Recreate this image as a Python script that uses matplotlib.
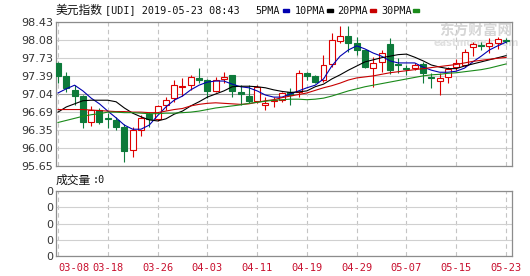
import matplotlib
matplotlib.use("Agg")
import matplotlib.pyplot as plt
from matplotlib.patches import Rectangle
import numpy as np

# daily candles 2019-03-08 .. 2019-05-23
opens = [97.63, 97.39, 97.12, 97.00, 96.49, 96.73, 96.58, 96.54, 96.41, 95.96,
         96.35, 96.65, 96.55, 96.83, 96.96, 97.17, 97.21, 97.34, 97.31, 97.10,
         97.32, 97.41, 97.07, 97.00, 96.90, 96.83, 96.90, 96.92, 97.08, 97.08,
         97.44, 97.39, 97.31, 97.61, 98.07, 98.16, 98.02, 97.88, 97.54, 97.66,
         98.00, 97.62, 97.54, 97.55, 97.62, 97.36, 97.30, 97.37, 97.57, 97.60,
         97.94, 97.99, 97.97, 98.03, 98.08]
closes = [97.39, 97.15, 97.00, 96.49, 96.73, 96.49, 96.55, 96.41, 95.93, 96.35,
          96.57, 96.55, 96.80, 96.92, 97.21, 97.19, 97.36, 97.31, 97.10, 97.31,
          97.37, 97.10, 97.04, 96.90, 97.18, 96.86, 96.92, 97.05, 97.02, 97.44,
          97.39, 97.28, 97.60, 98.08, 98.16, 98.03, 97.88, 97.57, 97.64, 97.84,
          97.50, 97.60, 97.52, 97.60, 97.44, 97.34, 97.34, 97.52, 97.63, 97.86,
          98.00, 97.97, 98.03, 98.10, 98.07]
highs = [97.66, 97.47, 97.21, 97.02, 96.80, 96.77, 96.67, 96.60, 96.47, 96.41,
         96.63, 96.70, 96.83, 96.98, 97.31, 97.34, 97.41, 97.54, 97.32, 97.36,
         97.47, 97.41, 97.21, 97.21, 97.21, 96.98, 96.99, 97.08, 97.15, 97.50,
         97.47, 97.41, 97.79, 98.21, 98.35, 98.35, 98.15, 97.89, 97.76, 97.88,
         98.12, 97.73, 97.60, 97.64, 97.66, 97.44, 97.44, 97.57, 97.71, 97.90,
         98.05, 98.05, 98.13, 98.15, 98.12]
lows = [97.25, 97.08, 96.83, 96.38, 96.42, 96.47, 96.38, 96.35, 95.73, 95.83,
        96.22, 96.41, 96.52, 96.73, 96.89, 97.00, 97.12, 97.25, 96.96, 97.08,
        97.25, 96.99, 96.83, 96.86, 96.86, 96.73, 96.78, 96.89, 96.83, 96.98,
        97.31, 97.25, 97.28, 97.57, 98.02, 97.86, 97.79, 97.54, 97.18, 97.47,
        97.43, 97.44, 97.41, 97.50, 97.25, 97.15, 97.02, 97.25, 97.50, 97.57,
        97.77, 97.89, 97.83, 97.90, 98.03]

ma5 = [97.06, 97.14, 97.21, 97.10, 96.96, 96.85, 96.71, 96.58, 96.44, 96.36,
       96.36, 96.44, 96.62, 96.79, 96.92, 97.00, 97.12, 97.21, 97.27, 97.29,
       97.29, 97.23, 97.18, 97.16, 97.10, 97.02, 96.98, 96.98, 97.04, 97.10,
       97.16, 97.21, 97.33, 97.58, 97.77, 97.89, 97.97, 97.91, 97.83, 97.77,
       97.68, 97.64, 97.64, 97.64, 97.56, 97.50, 97.46, 97.46, 97.48, 97.54,
       97.66, 97.77, 97.89, 97.97, 98.04]
ma10 = [96.69, 96.79, 96.85, 96.91, 96.92, 96.92, 96.92, 96.89, 96.77, 96.67,
        96.60, 96.54, 96.52, 96.56, 96.65, 96.71, 96.81, 96.89, 96.98, 97.04,
        97.10, 97.18, 97.19, 97.19, 97.18, 97.16, 97.12, 97.09, 97.07, 97.08,
        97.10, 97.18, 97.23, 97.33, 97.41, 97.50, 97.58, 97.66, 97.70, 97.74,
        97.77, 97.80, 97.81, 97.75, 97.68, 97.60, 97.56, 97.53, 97.53, 97.58,
        97.62, 97.66, 97.70, 97.74, 97.78]
ma20 = [96.74, 96.74, 96.74, 96.74, 96.73, 96.72, 96.71, 96.70, 96.70, 96.69,
        96.69, 96.68, 96.68, 96.71, 96.74, 96.76, 96.81, 96.84, 96.86, 96.87,
        96.86, 96.85, 96.84, 96.85, 96.88, 96.91, 96.93, 96.97, 97.00, 97.03,
        97.06, 97.11, 97.16, 97.20, 97.25, 97.31, 97.35, 97.37, 97.39, 97.42,
        97.45, 97.47, 97.49, 97.51, 97.53, 97.55, 97.57, 97.59, 97.61, 97.64,
        97.67, 97.69, 97.71, 97.73, 97.745]
ma30 = [96.49, 96.53, 96.57, 96.61, 96.64, 96.66, 96.69, 96.69, 96.68, 96.68,
        96.67, 96.66, 96.66, 96.67, 96.67, 96.68, 96.69, 96.71, 96.74, 96.77,
        96.79, 96.81, 96.83, 96.86, 96.88, 96.90, 96.92, 96.93, 96.94, 96.94,
        96.93, 96.94, 96.96, 97.00, 97.05, 97.10, 97.14, 97.18, 97.21, 97.24,
        97.27, 97.30, 97.33, 97.36, 97.39, 97.41, 97.42, 97.44, 97.45, 97.47,
        97.49, 97.51, 97.54, 97.58, 97.62]

date_labels = ["03-08", "03-18", "03-26", "04-03", "04-11",
               "04-19", "04-29", "05-07", "05-15", "05-23"]
date_index = [0, 6, 12, 18, 24, 30, 36, 42, 48, 54]
price_labels = ["95.65", "96.00", "96.35", "96.69", "97.04",
                "97.39", "97.73", "98.08", "98.43"]

W, H = 530, 276
UP = "#dd0000"
DOWN = "#0d7a3a"
GRID = "#d0d0d0"
FRAME = "#8c8c8c"


def fx(px):
    return px / W


def fy(py):
    return 1 - py / H


fig = plt.figure(figsize=(W / 100, H / 100), dpi=100)
fig.patch.set_facecolor("white")

ax = fig.add_axes([fx(56), fy(166), fx(512) - fx(56), fy(22) - fy(166)])
axv = fig.add_axes([fx(56), fy(256), fx(512) - fx(56), fy(191) - fy(256)])

n = len(opens)
xs = np.arange(n)
xlim = (-0.24, 54.72)

# grid
yt = np.linspace(95.65, 98.43, 9)
for i, v in enumerate(yt):
    ax.axhline(v, color="#999999" if i == 4 else GRID, lw=0.8, zorder=0)
for d in date_index:
    ax.axvline(d, color="#c4c4c4", lw=0.8, ls=(0, (4, 3)), zorder=0)
    axv.axvline(d, color="#c4c4c4", lw=0.8, ls=(0, (4, 3)), zorder=0)

# watermark, behind the candles
cjk = ["Noto Sans CJK SC", "DejaVu Sans"]
ax.text(fx(476), fy(31), "东方财富网", fontsize=10.5, family=cjk, weight="bold",
        va="center", ha="center", color="#d6d6d6", zorder=1,
        transform=fig.transFigure, clip_on=False)
ax.text(fx(476), fy(43), "eastmoney.com", fontsize=7, weight="bold",
        va="center", ha="center", color="#e0e0e0", zorder=1,
        transform=fig.transFigure, clip_on=False)

# candles
o = np.array(opens)
c = np.array(closes)
up = c >= o
col = np.where(up, UP, DOWN)
ax.vlines(xs, lows, highs, colors=col, lw=0.8, zorder=2)
body_lo = np.minimum(o, c)
body_h = np.maximum(np.abs(c - o), 0.015)
ax.bar(xs[up], body_h[up], bottom=body_lo[up], width=0.72,
       facecolor="white", edgecolor=UP, linewidth=0.8, zorder=3)
ax.bar(xs[~up], body_h[~up], bottom=body_lo[~up], width=0.72,
       facecolor=DOWN, edgecolor=DOWN, linewidth=0.8, zorder=3)

# moving averages
ax.plot(xs, ma5, color="#0000b0", lw=0.8, zorder=4)
ax.plot(xs, ma10, color="black", lw=0.8, zorder=4)
ax.plot(xs, ma20, color="#c80000", lw=0.8, zorder=4)
ax.plot(xs, ma30, color="#1a8a1a", lw=0.8, zorder=4)

ax.set_xlim(*xlim)
ax.set_ylim(95.65, 98.43)
ax.set_yticks(yt)
ax.set_yticklabels(price_labels, fontsize=8, color="#333333")
ax.set_xticks([])
ax.tick_params(axis="y", length=0, pad=2)
for s in ax.spines.values():
    s.set_color(FRAME)
    s.set_linewidth(0.9)

# volume panel (empty)
axv.set_xlim(*xlim)
axv.set_ylim(0, 4)
for v in range(5):
    axv.axhline(v, color=GRID, lw=0.8, zorder=0)
axv.set_yticks(range(5))
axv.set_yticklabels(["0"] * 5, fontsize=8, color="#333333")
axv.set_xticks(date_index)
axv.set_xticklabels(date_labels, fontsize=7.5, family="DejaVu Sans Mono",
                    color="#c8102e")
axv.get_xticklabels()[0].set_ha("left")
axv.tick_params(axis="y", length=0, pad=2)
axv.tick_params(axis="x", length=0, pad=5)
for s in axv.spines.values():
    s.set_color(FRAME)
    s.set_linewidth(0.9)

# header
fig.text(fx(56), fy(10.5), "美元指数", fontsize=8.5, family=cjk,
         va="center", ha="left", color="#111111")
fig.text(fx(105), fy(10.5), "[UDI] 2019-05-23 08:43", fontsize=7.3,
         family="DejaVu Sans Mono", va="center", ha="left", color="#111111")
legend_items = [("5PMA", 255, 283, "#0000b0"), ("10PMA", 295, 327, "black"),
                ("20PMA", 337, 370, "#c80000"), ("30PMA", 381, 413, "#1a8a1a")]
for name, tx, mx, mc in legend_items:
    fig.text(fx(tx), fy(10.5), name, fontsize=7.3, family="DejaVu Sans Mono",
             va="center", ha="left", color="#111111")
    fig.patches.append(Rectangle((fx(mx), fy(12)), 6 / W, 2.5 / H,
                                 transform=fig.transFigure, color=mc))

fig.text(fx(56), fy(180), "成交量", fontsize=8.5, family=cjk,
         va="center", ha="left", color="#111111")
fig.text(fx(93), fy(180), ":0", fontsize=7.3, family="DejaVu Sans Mono",
         va="center", ha="left", color="#111111")

fig.savefig("out.png", dpi=100)
